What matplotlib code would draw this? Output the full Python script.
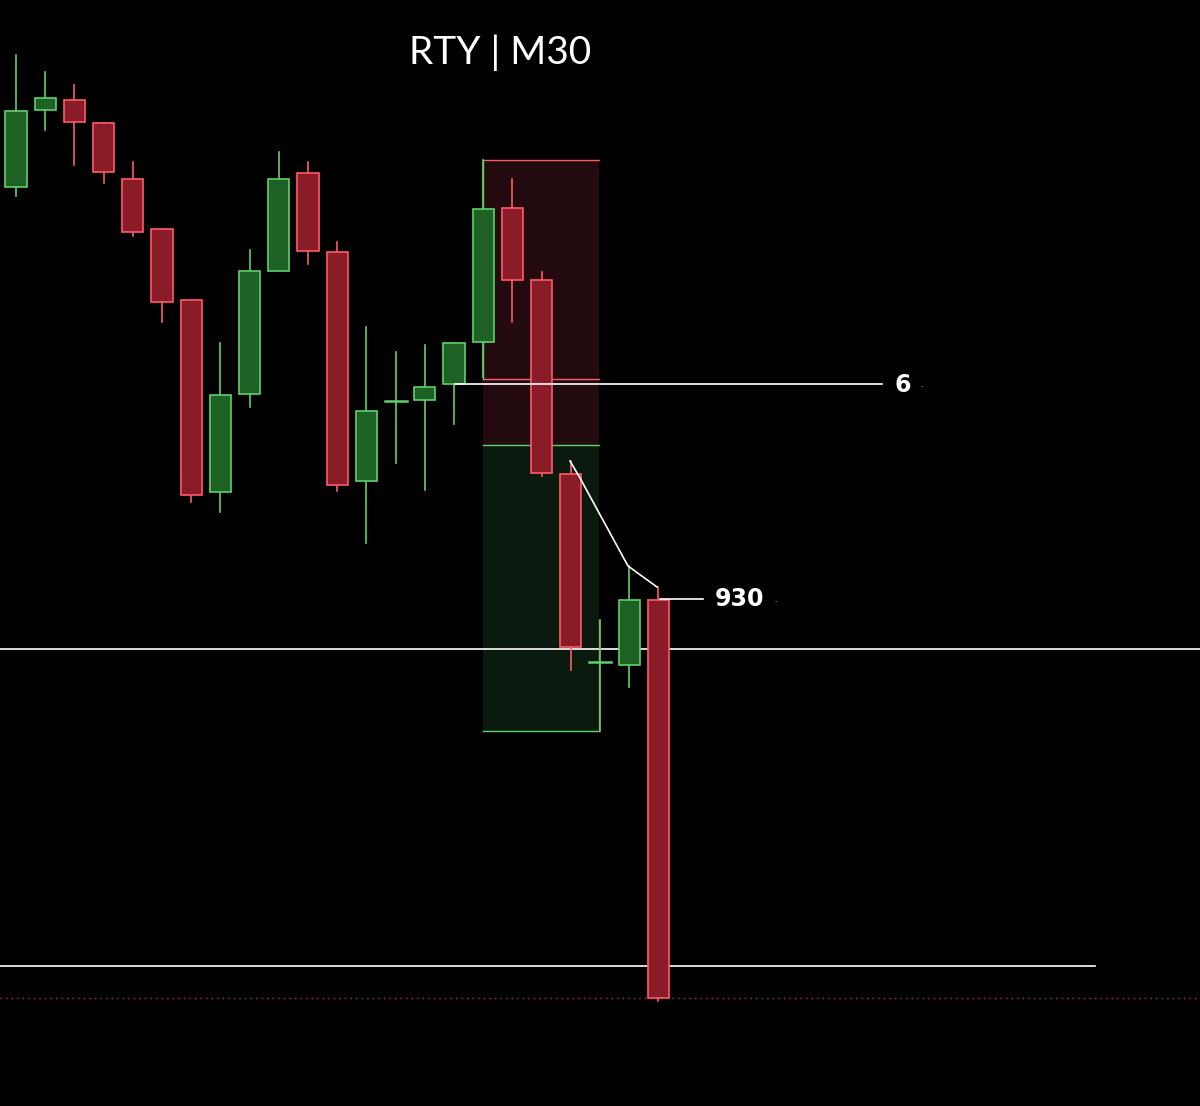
import matplotlib.pyplot as plt
from matplotlib.patches import Rectangle

# prices in chart units (higher = up)
H = 1106
opens  = [919, 996, 1006, 983, 927, 877, 806, 614, 712, 835, 933, 854, 625, 704, 706, 722, 764, 898, 826, 632, 444, 441, 506]
closes = [995, 1008, 984, 934, 874, 804, 611, 711, 835, 927, 855, 621, 695, 705, 719, 763, 897, 826, 633, 459, 444, 506, 108]
highs  = [1051, 1034, 1021, 983, 944, 877, 806, 763, 856, 954, 944, 864, 779, 754, 761, 763, 946, 927, 834, 645, 486, 540, 519]
lows   = [910, 976, 941, 923, 870, 784, 604, 594, 699, 836, 842, 615, 563, 643, 616, 682, 729, 784, 630, 436, 375, 419, 105]

GREEN_FILL, GREEN_EDGE = "#1e6124", "#5fd06a"
RED_FILL, RED_EDGE = "#8a1c28", "#ff5a6a"
x0, dx = 16, 29.2

fig = plt.figure(figsize=(12, 11.06), dpi=100, facecolor="black")
ax = fig.add_axes([0, 0, 1, 1], facecolor="black")
ax.set_xlim(-x0 / dx, (1200 - x0) / dx)
ax.set_ylim(0, H)
ax.axis("off")

def px(x):
    return (x - x0) / dx

# position boxes
ax.add_patch(Rectangle((px(483), H - 445), px(599) - px(483), 285, fc="#230a0e", ec="none", zorder=1))
ax.plot([px(483), px(599)], [H - 160, H - 160], color=RED_EDGE, lw=1, zorder=2)
ax.plot([px(483), px(599)], [H - 379, H - 379], color=RED_EDGE, lw=1, zorder=2)
ax.add_patch(Rectangle((px(483), H - 731), px(599) - px(483), 286, fc="#0b1a0e", ec="none", zorder=1))
ax.plot([px(483), px(599)], [H - 445, H - 445], color=GREEN_EDGE, lw=1, zorder=2)
ax.plot([px(483), px(599)], [H - 731, H - 731], color=GREEN_EDGE, lw=1, zorder=2)
ax.plot([px(599), px(599)], [H - 731, H - 620], color=RED_EDGE, lw=1, zorder=2)
ax.plot([px(483), px(483)], [H - 379, H - 160], color=GREEN_EDGE, lw=1, zorder=2)

# horizontal lines
ax.axhline(H - 649, color="white", lw=1.2, zorder=2)
ax.plot([px(0), px(1095)], [H - 966, H - 966], color="white", lw=1.2, zorder=2)
ax.axhline(H - 998, color="#c0303a", lw=1, ls=(0, (1, 3)), zorder=2)
ax.plot([px(455), px(882)], [H - 384, H - 384], color="white", lw=1.2, zorder=4)
ax.plot([px(660), px(703)], [H - 599, H - 599], color="white", lw=1.2, zorder=4)
ax.text(px(894), H - 385, "6", color="white", fontsize=17, fontweight="bold", va="center")
ax.text(px(715), H - 599, "930", color="white", fontsize=17, fontweight="bold", va="center")
ax.text(px(920), H - 385, ".", color="white", fontsize=5, va="center")
ax.text(px(774), H - 600, ".", color="white", fontsize=5, va="center")

# candles
for i, (o, c, h, l) in enumerate(zip(opens, closes, highs, lows)):
    up = c >= o
    fill, edge = (GREEN_FILL, GREEN_EDGE) if up else (RED_FILL, RED_EDGE)
    ax.plot([i, i], [l, h], color=edge, lw=1.2, zorder=3)
    lo, hi = min(o, c), max(o, c)
    if hi - lo < 3:
        ax.plot([i - 0.38, i + 0.38], [c, c], color=edge, lw=1.8, zorder=3)
    else:
        ax.add_patch(Rectangle((i - 0.36, lo), 0.72, hi - lo, fc=fill, ec=edge, lw=1.2, zorder=3))

# path line
path_x = [px(570), px(580), px(628), px(657)]
path_y = [H - 461, H - 478, H - 566, H - 587]
ax.plot(path_x, path_y, color="white", lw=1.2, zorder=4)

ax.text(px(500), H - 53, "RTY | M30", color="white", fontsize=28, ha="center", va="center",
        family=["Lato", "DejaVu Sans"])

fig.savefig("out.png", dpi=100, facecolor="black")
